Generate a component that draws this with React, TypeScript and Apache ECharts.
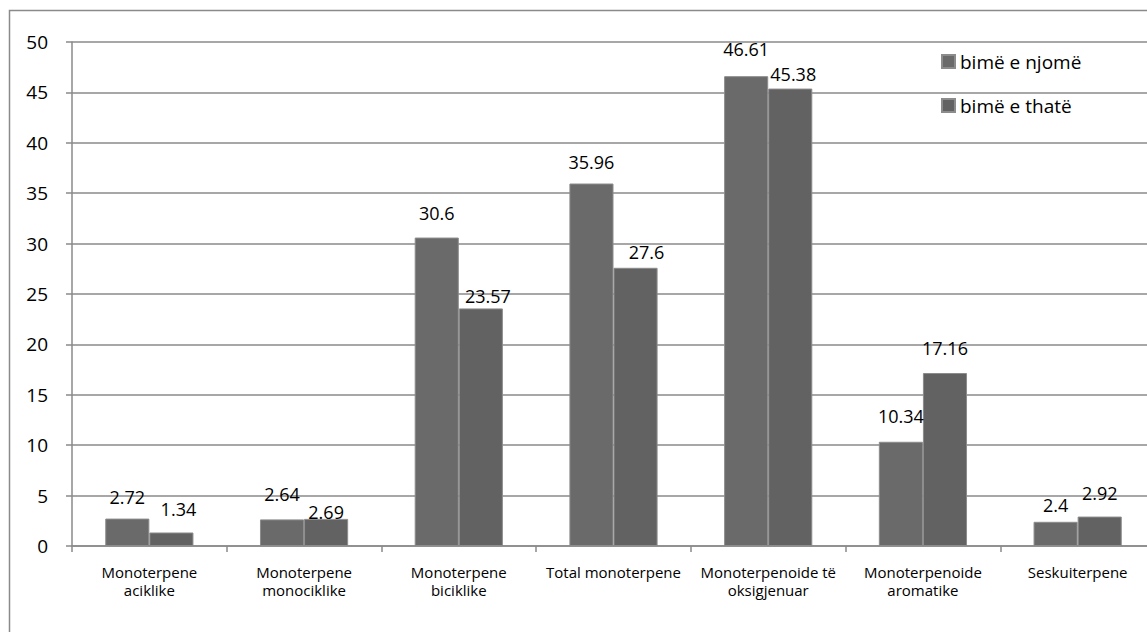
import React, { useEffect, useRef } from "react";
import * as echarts from "echarts";

const categories = [
  "Monoterpene\naciklike",
  "Monoterpene\nmonociklike",
  "Monoterpene\nbiciklike",
  "Total monoterpene",
  "Monoterpenoide të\noksigjenuar",
  "Monoterpenoide\naromatike",
  "Seskuiterpene",
];
const freshValues = [2.72, 2.64, 30.6, 35.96, 46.61, 10.34, 2.4];
const dryValues = [1.34, 2.69, 23.57, 27.6, 45.38, 17.16, 2.92];
const seriesNames = ["bimë e njomë", "bimë e thatë"];

// label nudges (style only): [dx, dy] in px
const freshLabelOffsets = [[0, 2], [0, -1], [0, -1], [0, 2], [0, -3], [0, -2], [0, 7]];
const dryLabelOffsets = [[7, 1], [0, 17], [7, 12], [11, 8], [3, 9], [0, -1], [0, 0]];

const FONT = "'Open Sans', 'Noto Sans', sans-serif";

export default function App() {
  const ref = useRef<HTMLDivElement>(null);
  useEffect(() => {
    if (!ref.current) return;
    const chart = echarts.init(ref.current, undefined, { renderer: "svg" });
    const baseLabel = {
      show: true,
      position: "top",
      distance: 15,
      fontSize: 18,
      color: "#000",
      fontFamily: FONT,
    };
    const mk = (vals: number[], offs: number[][]) =>
      vals.map((v, i) => ({ value: v, label: { offset: offs[i] } }));
    chart.setOption({
      animation: false,
      backgroundColor: "#fff",
      textStyle: { fontFamily: FONT },
      graphic: [
        {
          type: "rect",
          shape: { x: 9.5, y: 10.5, width: 1180, height: 660 },
          style: { fill: "none", stroke: "#8a8a8a", lineWidth: 1.5 },
          silent: true,
        },
      ],
      legend: {
        orient: "vertical",
        left: 936,
        top: 47,
        itemWidth: 13,
        itemHeight: 13,
        itemGap: 25,
        icon: "rect",
        textStyle: { fontSize: 19, color: "#000", fontFamily: FONT },
        data: seriesNames,
      },
      grid: { left: 72, top: 42, bottom: 86, right: 5, containLabel: false },
      xAxis: {
        type: "category",
        data: categories,
        axisLine: { lineStyle: { color: "#8a8a8a", width: 1.5 } },
        axisTick: { show: true, length: 6, lineStyle: { color: "#8a8a8a", width: 1.5 } },
        axisLabel: {
          interval: 0,
          fontSize: 15,
          color: "#000",
          margin: 17,
          lineHeight: 18,
          fontFamily: FONT,
        },
      },
      yAxis: {
        type: "value",
        min: 0,
        max: 50,
        interval: 5,
        axisLine: { show: true, lineStyle: { color: "#8a8a8a", width: 1.5 } },
        axisTick: { show: true, length: 6, lineStyle: { color: "#8a8a8a", width: 1.5 } },
        axisLabel: { fontSize: 19, color: "#000", margin: 24, fontFamily: FONT },
        splitLine: { lineStyle: { color: "#8a8a8a", width: 1.5 } },
      },
      series: [
        {
          name: seriesNames[0],
          type: "bar",
          data: mk(freshValues, freshLabelOffsets),
          barGap: "0%",
          barCategoryGap: "43%",
          itemStyle: { color: "#6a6a6a", borderColor: "#8c8c8c", borderWidth: 1 },
          label: baseLabel,
        },
        {
          name: seriesNames[1],
          type: "bar",
          data: mk(dryValues, dryLabelOffsets),
          itemStyle: { color: "#626262", borderColor: "#8c8c8c", borderWidth: 1 },
          label: baseLabel,
        },
      ],
    });
    return () => chart.dispose();
  }, []);
  return (
    <div
      style={{
        position: "absolute",
        left: 0,
        top: 0,
        width: 1147,
        height: 632,
        overflow: "hidden",
        background: "#fff",
      }}
    >
      <div ref={ref} style={{ width: 1160, height: 632 }} />
    </div>
  );
}
